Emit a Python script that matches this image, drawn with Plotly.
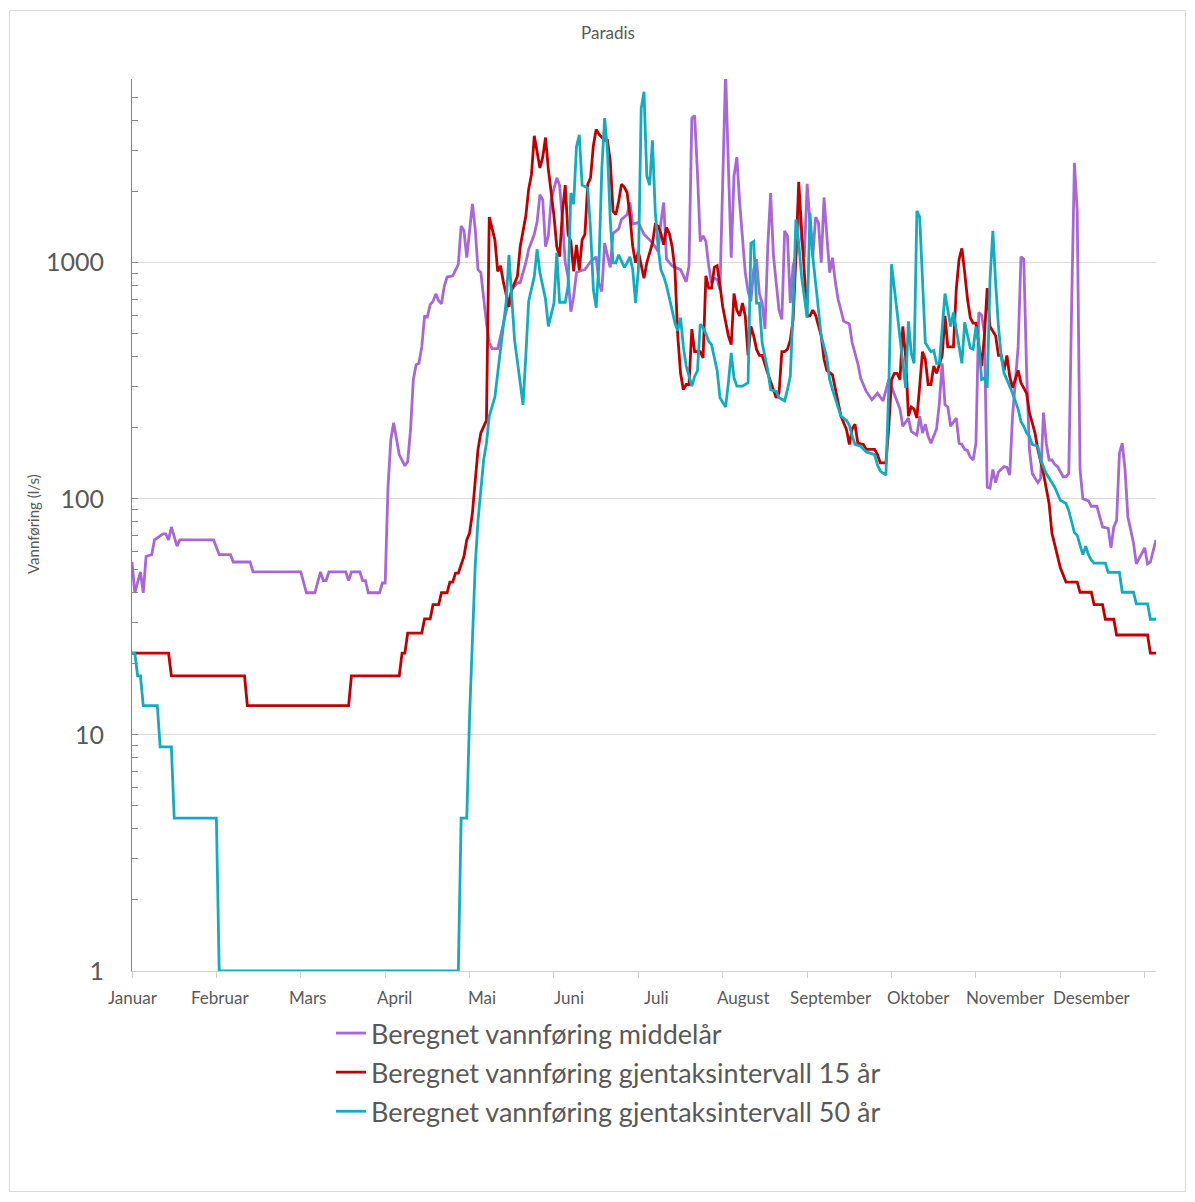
import plotly.graph_objects as go

# ---- data (day of year index, value in l/s) ----
month_labels = ["Januar", "Februar", "Mars", "April", "Mai", "Juni", "Juli",
                "August", "September", "Oktober", "November", "Desember"]
month_label_days = [0.4 + 31 * i for i in range(12)]
tick_days = list(range(0, 361, 30))

mid_day = [0, 1, 3, 4, 5, 7, 8, 11, 12, 13, 14, 16, 17, 29, 31, 35, 36, 42, 43, 60,
           62, 65, 67, 68, 69, 70, 76, 77, 78, 81, 82, 83, 84, 88, 89, 90, 91, 92, 93, 94,
           95, 97, 98, 99, 100, 101, 102, 103, 104, 105, 106, 107, 108, 109, 110, 111, 112, 114, 115, 116,
           117, 118, 119, 120, 121, 122, 123, 124, 125, 126, 127, 128, 130, 132, 133, 134, 135, 137, 138, 140,
           141, 143, 144, 145, 146, 147, 148, 149, 151, 152, 153, 154, 155, 156, 157, 158, 159, 161, 163, 165,
           166, 167, 168, 170, 171, 173, 174, 176, 177, 178, 180, 182, 184, 186, 187, 188, 189, 190, 192, 195,
           197, 198, 199, 200, 201, 202, 203, 204, 205, 206, 207, 208, 209, 210, 211, 212, 213, 214, 215, 216,
           217, 218, 219, 220, 221, 222, 223, 224, 225, 226, 227, 228, 229, 230, 231, 232, 233, 234, 235, 236,
           237, 238, 239, 240, 241, 242, 243, 244, 245, 246, 247, 248, 249, 250, 251, 253, 255, 256, 258, 259,
           261, 263, 265, 267, 269, 272, 273, 274, 276, 277, 279, 280, 281, 282, 283, 284, 286, 287, 288, 289,
           290, 291, 293, 294, 295, 296, 297, 298, 299, 300, 301, 302, 303, 304, 305, 306, 307, 308, 310, 311,
           312, 313, 315, 316, 317, 318, 319, 320, 322, 323, 324, 325, 326, 327, 328, 329, 331, 332, 333, 334,
           335, 336, 337, 338, 340, 341, 343, 344, 345, 347, 348, 349, 350, 351, 352, 353, 354, 356, 357, 360,
           361, 362, 364]
mid_val = [54, 40, 49, 40, 57, 58, 67, 71, 71, 67, 76, 63, 67, 67, 58, 58, 54, 54, 49, 49,
           40, 40, 49, 45, 45, 49, 49, 45, 49, 49, 45, 45, 40, 40, 44, 44, 112, 178, 210, 178,
           154, 138, 144, 196, 320, 370, 375, 440, 593, 590, 665, 686, 738, 690, 670, 795, 870, 880, 935, 985,
           1430, 1365, 1050, 1390, 1775, 1390, 935, 908, 700, 555, 458, 433, 433, 560, 630, 700, 770, 820, 825, 1000,
           1140, 1320, 1490, 1940, 1850, 1170, 1300, 1850, 2290, 2130, 1525, 1000, 875, 620, 720, 908, 920, 935, 1010, 1060,
           820, 755, 1210, 955, 1330, 1390, 1525, 1600, 1800, 1460, 1480, 1320, 1250, 1170, 1115, 1480, 1800, 1035, 970, 935,
           830, 970, 4100, 4200, 2400, 1230, 1300, 1230, 970, 820, 860, 850, 770, 2650, 6500, 2560, 1050, 2330, 2800, 1800,
           1300, 908, 755, 686, 935, 1035, 740, 675, 523, 1170, 1975, 1080, 820, 630, 575, 1365, 1300, 675, 970, 1080,
           1880, 1250, 1060, 2160, 1460, 1060, 1560, 1480, 1000, 1890, 1300, 908, 1050, 830, 700, 565, 550, 458, 375, 325,
           285, 263, 280, 260, 320, 255, 240, 203, 220, 193, 186, 224, 190, 207, 184, 172, 198, 255, 375, 250,
           245, 203, 220, 172, 170, 162, 160, 150, 146, 172, 615, 600, 505, 112, 111, 133, 117, 130, 137, 136,
           126, 224, 440, 1060, 1035, 350, 162, 128, 117, 122, 232, 172, 146, 146, 140, 137, 124, 124, 128, 650,
           2650, 1650, 133, 100, 98, 93, 93, 84, 76, 75, 62, 76, 81, 156, 172, 133, 84, 65, 53, 62,
           53, 54, 67]

r15_day = [0, 13, 14, 40, 41, 77, 78, 95, 96, 97, 98, 103, 104, 106, 107, 109, 110, 112, 113, 114,
           115, 116, 117, 118, 119, 120, 121, 122, 123, 124, 126, 127, 129, 130, 131, 132, 134, 135, 137, 138,
           140, 141, 142, 143, 144, 145, 146, 147, 148, 150, 151, 152, 153, 154, 155, 156, 157, 158, 159, 160,
           161, 162, 163, 164, 165, 166, 168, 169, 170, 171, 172, 173, 174, 175, 176, 177, 178, 179, 180, 181,
           182, 183, 185, 186, 187, 188, 189, 190, 191, 192, 193, 194, 195, 196, 197, 198, 199, 200, 202, 203,
           204, 205, 206, 207, 208, 209, 210, 212, 213, 214, 215, 216, 217, 218, 219, 220, 221, 222, 223, 224,
           225, 226, 228, 229, 230, 231, 232, 233, 234, 235, 236, 237, 238, 239, 240, 241, 242, 243, 245, 246,
           247, 249, 250, 251, 252, 254, 255, 256, 257, 258, 260, 261, 264, 265, 266, 268, 269, 270, 271, 272,
           273, 274, 275, 276, 277, 278, 279, 280, 281, 282, 283, 284, 285, 286, 288, 289, 290, 292, 293, 294,
           295, 296, 297, 298, 299, 300, 301, 302, 303, 304, 305, 306, 307, 308, 309, 310, 311, 312, 313, 315,
           316, 318, 319, 321, 322, 324, 326, 327, 329, 330, 332, 336, 337, 341, 342, 345, 346, 349, 350, 361,
           362, 364]
r15_val = [22.2, 22.2, 17.8, 17.8, 13.3, 13.3, 17.8, 17.8, 22.2, 22.2, 27, 27, 31, 31, 35.6, 35.6, 40, 40, 44.4, 44.4,
           48.4, 48.4, 52.6, 57, 67, 71.6, 87, 120, 162, 190, 215, 1560, 1250, 920, 970, 830, 650, 770, 875, 1170,
           1580, 2050, 2360, 3450, 3000, 2520, 2800, 3390, 2490, 1580, 1170, 1060, 1630, 2130, 1320, 1230, 920, 1190, 930, 1250,
           1320, 2150, 2290, 3130, 3670, 3500, 3300, 3300, 2700, 1650, 1600, 1820, 2150, 2090, 1980, 1580, 1170, 1000, 1115, 970,
           860, 1000, 1210, 1450, 1430, 1330, 1190, 1410, 1330, 1170, 935, 490, 340, 290, 305, 305, 523, 420, 420, 395,
           880, 780, 780, 955, 970, 800, 650, 490, 450, 740, 630, 595, 675, 595, 405, 537, 490, 430, 405, 405,
           375, 340, 290, 268, 280, 420, 420, 430, 470, 575, 1060, 2200, 1390, 908, 595, 595, 630, 600, 490, 390,
           350, 335, 290, 255, 224, 196, 170, 198, 207, 172, 170, 162, 162, 154, 142, 142, 200, 320, 340, 340,
           320, 537, 400, 224, 245, 240, 220, 300, 420, 390, 305, 305, 365, 340, 405, 595, 440, 440, 770, 1035,
           1150, 908, 700, 585, 555, 555, 458, 365, 490, 780, 537, 515, 490, 405, 405, 350, 405, 330, 295, 350,
           310, 280, 232, 190, 162, 128, 95.5, 71.6, 58, 51, 44.4, 44.4, 40.2, 40.2, 35.6, 35.6, 30.9, 30.9, 26.5, 26.5,
           22.2, 22.2]

r50_day = [0, 1, 2, 3, 4, 9, 10, 14, 15, 30, 31, 116, 117, 119, 120, 121, 122, 123, 124, 125,
           126, 127, 129, 130, 131, 132, 133, 134, 135, 136, 138, 139, 140, 141, 143, 144, 145, 147, 148, 150,
           151, 152, 154, 155, 156, 157, 158, 159, 160, 162, 163, 164, 165, 166, 167, 168, 169, 170, 171, 172,
           173, 175, 176, 177, 178, 179, 180, 181, 182, 183, 184, 185, 186, 187, 188, 189, 190, 191, 192, 193,
           194, 195, 196, 197, 198, 199, 200, 201, 202, 203, 204, 205, 206, 207, 208, 209, 210, 211, 212, 213,
           214, 215, 217, 218, 219, 220, 221, 222, 223, 224, 225, 226, 227, 229, 230, 232, 233, 234, 235, 236,
           237, 238, 240, 241, 242, 243, 244, 245, 247, 248, 249, 251, 252, 254, 255, 256, 257, 259, 261, 264,
           265, 266, 268, 269, 270, 272, 273, 274, 275, 276, 277, 278, 279, 280, 281, 282, 284, 285, 286, 287,
           289, 290, 291, 292, 294, 295, 296, 298, 299, 300, 301, 302, 303, 304, 305, 306, 307, 308, 309, 310,
           311, 313, 315, 316, 317, 318, 319, 320, 322, 323, 325, 327, 328, 330, 332, 333, 335, 336, 338, 339,
           340, 341, 342, 346, 347, 351, 352, 356, 357, 361, 362, 364]
r50_val = [22.2, 22.2, 17.8, 17.8, 13.3, 13.3, 8.9, 8.9, 4.44, 4.44, 1, 1, 4.44, 4.44, 12, 24, 52, 81, 110, 146,
           172, 224, 270, 340, 440, 523, 680, 1080, 700, 470, 310, 250, 405, 686, 875, 1140, 908, 700, 537, 675,
           1100, 680, 680, 795, 1975, 1770, 3100, 3480, 2130, 2070, 1390, 770, 645, 1000, 2490, 4100, 3000, 1525, 1000, 1000,
           1080, 955, 1000, 1060, 935, 675, 935, 4500, 5300, 2330, 2130, 3300, 1650, 1170, 935, 875, 800, 720, 630, 555,
           515, 585, 440, 365, 330, 300, 330, 348, 550, 530, 500, 465, 450, 400, 350, 268, 255, 245, 310, 415,
           325, 300, 300, 305, 310, 1210, 1230, 675, 675, 458, 395, 350, 290, 285, 268, 260, 290, 330, 630, 1525,
           1210, 875, 585, 1630, 1060, 820, 630, 490, 395, 320, 290, 245, 224, 215, 205, 184, 170, 167, 158, 154,
           139, 131, 126, 290, 985, 615, 490, 390, 295, 565, 415, 375, 1660, 1560, 770, 458, 420, 425, 375, 375,
           740, 630, 537, 615, 430, 375, 560, 435, 430, 537, 458, 320, 325, 295, 850, 1365, 820, 537, 400, 340,
           320, 280, 240, 212, 203, 190, 184, 170, 167, 146, 128, 117, 112, 98.6, 95.5, 89, 72, 70, 58, 63,
           58, 55, 53.4, 53.4, 48.8, 48.8, 40.2, 40.2, 35.9, 35.9, 30.9, 30.9]

series_names = ["Beregnet vannføring middelår",
                "Beregnet vannføring gjentaksintervall 15 år",
                "Beregnet vannføring gjentaksintervall 50 år"]
series_colors = ["#A867D8", "#C00000", "#12ACC0"]

# ---- figure ----
W, H = 1195, 1202
ML, MR, MT, MB = 132, 39, 79, 231
PW, PH = W - ML - MR, H - MT - MB
FONT = "Lato, Carlito, 'Liberation Sans', sans-serif"
GREY = "#595959"


def px_x(px):
    return (px - ML) / PW


def px_y(py):
    return (H - MB - py) / PH


fig = go.Figure()
for i, (d, v, name, col) in enumerate(zip([mid_day, r15_day, r50_day], [mid_val, r15_val, r50_val],
                                          series_names, series_colors)):
    fig.add_trace(go.Scatter(x=d, y=v, mode="lines", name=name, legendgroup=f"g{i}",
                             line=dict(color=col, width=2.8)))

annotations = []
for lab, d in zip(month_labels, month_label_days):
    annotations.append(dict(x=d, y=0, xref="x", yref="paper", text=lab, showarrow=False,
                            yshift=-26, yanchor="middle", xanchor="center",
                            font=dict(family=FONT, size=17, color=GREY)))
annotations.append(dict(x=px_x(608), y=px_y(33), xref="paper", yref="paper", text="Paradis",
                        showarrow=False, xanchor="center", yanchor="middle",
                        font=dict(family=FONT, size=17, color=GREY)))
annotations.append(dict(x=px_x(33), y=px_y(524), xref="paper", yref="paper",
                        text="Vannføring (l/s)", textangle=-90, showarrow=False,
                        xanchor="center", yanchor="middle",
                        font=dict(family=FONT, size=15, color=GREY)))

fig.update_layout(
    width=W, height=H,
    margin=dict(l=ML, r=MR, t=MT, b=MB),
    paper_bgcolor="white", plot_bgcolor="white",
    showlegend=True,
    legend=dict(x=px_x(331), y=px_y(1009), xanchor="left", yanchor="top",
                orientation="v", font=dict(family=FONT, size=27, color=GREY),
                itemwidth=30, tracegroupgap=1, bgcolor="rgba(0,0,0,0)"),
    annotations=annotations,
    shapes=[dict(type="rect", xref="paper", yref="paper",
                 x0=px_x(9.5), x1=px_x(1185.5), y0=px_y(1191.5), y1=px_y(10.5),
                 line=dict(color="#d9d9d9", width=1), fillcolor="rgba(0,0,0,0)", layer="below")],
)

fig.update_xaxes(range=[0, 364], tickvals=tick_days, ticks="outside", ticklen=6,
                 tickcolor="#d0d0d0", showticklabels=False, showgrid=False,
                 showline=True, linecolor="#d0d0d0", linewidth=1, zeroline=False)
fig.update_yaxes(type="log", range=[0, 3.7782], tickvals=[1, 10, 100, 1000],
                 ticktext=["1", "10", "100", "1000"], ticks="inside", ticklen=6,
                 tickcolor="#868686", showline=True, linecolor="#868686", linewidth=1,
                 showgrid=True, gridcolor="#d9d9d9", gridwidth=1, zeroline=False,
                 ticklabelstandoff=22,
                 tickfont=dict(family=FONT, size=25, color=GREY),
                 minor=dict(ticks="inside", ticklen=6, tickcolor="#868686", dtick="D1",
                            showgrid=False))

fig.write_html("out.html", config={"displayModeBar": False},
               post_script="document.body.style.margin='0';document.body.style.overflow='hidden';")
